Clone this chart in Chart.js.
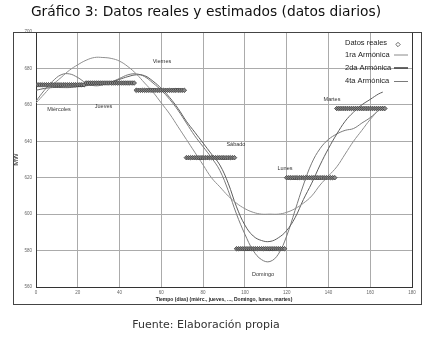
<!DOCTYPE html>
<html>
<head>
<meta charset="utf-8">
<script src="https://cdn.jsdelivr.net/npm/chart.js@4.4.0/dist/chart.umd.min.js"></script>
<style>
html, body { margin: 0; padding: 0; background: #fff; }
</style>
</head>
<body>
<canvas id="grafico" width="433" height="338"></canvas>
<script>
// datos reales: un valor por dia (MW), se repite en las 24 horas del dia
var dias = ['Miércoles', 'Jueves', 'Viernes', 'Sábado', 'Domingo', 'Lunes', 'Martes'];
var datosReales = [671, 672, 668, 631, 581, 620, 658];
var horasPorDia = 24;

// curvas estimadas, leidas cada 4 horas
var horas = [0, 4, 8, 12, 16, 20, 24, 28, 32, 36, 40, 44, 48, 52, 56, 60, 64, 68, 72, 76, 80,
    84, 88, 92, 96, 100, 104, 108, 112, 116, 120, 124, 128, 132, 136, 140, 144, 148, 152, 156, 160, 164, 166];
var armonica1 = [661, 666, 671, 675, 679, 682, 684.5, 686, 686, 685.5, 684, 681, 677, 672, 667, 661, 655, 648, 641, 634, 627,
    620, 615, 610, 606, 603, 601, 600, 600, 600, 601, 603, 606, 610, 616, 621, 626, 633, 640, 646, 652, 657, 659];
var armonica2 = [668, 669, 669.5, 669.5, 669.5, 670, 670.5, 671, 671.5, 672.5, 674, 675.5, 676.5, 676, 673, 669, 664, 658, 651, 645, 639,
    633, 627, 617, 604, 594, 588, 585.5, 585, 587, 591, 598, 608, 617, 627, 636, 644, 651, 656, 660, 663, 666, 667];
var armonica4 = [662, 668, 673, 676.5, 677, 675, 672, 670.5, 671, 672.5, 674.5, 676.5, 677, 675.5, 672, 668, 663, 657, 650, 643, 637,
    631, 624, 613, 600, 589, 580, 575, 574, 578, 588, 602, 616, 628, 636, 641, 644, 646, 647, 650, 653, 657, 659];

var xTicks = [0, 20, 40, 60, 80, 100, 120, 140, 160, 180];
var yTicks = [560, 580, 600, 620, 640, 660, 680, 700];

function puntos(xs, ys) {
    return xs.map(function (x, i) { return { x: x, y: ys[i] }; });
}

var puntosReales = [];
datosReales.forEach(function (v, d) {
    for (var h = 0; h < horasPorDia; h++) {
        puntosReales.push({ x: d * horasPorDia + h, y: v });
    }
});

// etiquetas de los dias, en coordenadas de datos
var etiquetas = [
    { text: 'Miércoles', x: 11, y: 657.5 },
    { text: 'Jueves', x: 32.3, y: 659 },
    { text: 'Viernes', x: 60.3, y: 684 },
    { text: 'Sábado', x: 95.7, y: 638.2 },
    { text: 'Domingo', x: 108.7, y: 566.8 },
    { text: 'Lunes', x: 119.2, y: 625 },
    { text: 'Martes', x: 141.7, y: 663 }
];

var leyenda = [
    { text: 'Datos reales', color: '#444', width: 0, marker: true },
    { text: '1ra Armónica', color: '#8a8a8a', width: 1 },
    { text: '2da Armónica', color: '#444', width: 1.6 },
    { text: '4ta Armónica', color: '#7a7a7a', width: 1 }
];

var extras = {
    id: 'extras',
    afterDraw: function (chart) {
        var ctx = chart.ctx, area = chart.chartArea;
        var sx = chart.scales.x, sy = chart.scales.y;
        ctx.save();

        // nombres de los dias
        ctx.font = '5.5px "Liberation Sans", Arial, sans-serif';
        ctx.fillStyle = '#333';
        ctx.textAlign = 'center';
        ctx.textBaseline = 'middle';
        etiquetas.forEach(function (e) {
            ctx.fillText(e.text, sx.getPixelForValue(e.x), sy.getPixelForValue(e.y));
        });

        // leyenda
        var rows = [11, 22.5, 35.5, 49];
        ctx.font = '7.5px "Liberation Sans", Arial, sans-serif';
        ctx.textAlign = 'left';
        leyenda.forEach(function (l, i) {
            var yy = area.top + rows[i];
            ctx.fillStyle = '#222';
            ctx.fillText(l.text, area.right - 67, yy);
            if (l.marker) {
                var cx = area.right - 14, cy = yy + 1.5;
                ctx.beginPath();
                ctx.moveTo(cx, cy - 2.2);
                ctx.lineTo(cx + 2.2, cy);
                ctx.lineTo(cx, cy + 2.2);
                ctx.lineTo(cx - 2.2, cy);
                ctx.closePath();
                ctx.strokeStyle = l.color;
                ctx.lineWidth = 0.8;
                ctx.stroke();
            } else {
                ctx.beginPath();
                ctx.moveTo(area.right - 18, yy + 0.5);
                ctx.lineTo(area.right - 4, yy + 0.5);
                ctx.strokeStyle = l.color;
                ctx.lineWidth = l.width;
                ctx.stroke();
            }
        });

        // marco exterior
        ctx.strokeStyle = '#444';
        ctx.lineWidth = 1;
        ctx.strokeRect(13.5, Math.round(area.top) + 0.5, Math.round(area.right) + 9 - 13, Math.round(area.bottom) + 17 - Math.round(area.top));
        ctx.restore();
    }
};

function colorGrid(limites) {
    return function (c) {
        if (c.tick && limites.indexOf(c.tick.value) >= 0) return '#333';
        return '#ababab';
    };
}

var ctx = document.getElementById('grafico').getContext('2d');
var chart = new Chart(ctx, {
    type: 'line',
    data: {
        datasets: [{
            label: 'Datos reales',
            data: puntosReales,
            showLine: false,
            pointStyle: 'rectRot',
            pointRadius: 2.3,
            pointBorderWidth: 0.8,
            pointBorderColor: '#3a3a3a',
            pointBackgroundColor: '#888',
            order: 0
        }, {
            label: '1ra Armónica',
            data: puntos(horas, armonica1),
            borderColor: '#8f8f8f',
            borderWidth: 1,
            pointRadius: 0,
            tension: 0.4,
            order: 1
        }, {
            label: '2da Armónica',
            data: puntos(horas, armonica2),
            borderColor: '#5e5e5e',
            borderWidth: 1,
            pointRadius: 0,
            tension: 0.4,
            order: 1
        }, {
            label: '4ta Armónica',
            data: puntos(horas, armonica4),
            borderColor: '#7a7a7a',
            borderWidth: 1,
            pointRadius: 0,
            tension: 0.4,
            order: 1
        }]
    },
    options: {
        responsive: false,
        animation: false,
        devicePixelRatio: 1,
        layout: { padding: { left: 0, right: 21, top: 0, bottom: 0 } },
        plugins: {
            legend: { display: false },
            tooltip: { enabled: false },
            title: {
                display: true,
                text: 'Gráfico 3: Datos reales y estimados (datos diarios)',
                color: '#111',
                font: { family: '"DejaVu Sans", sans-serif', size: 13.8, weight: 'normal' },
                padding: { top: 4.6, bottom: 10.84 }
            },
            subtitle: {
                display: true,
                position: 'bottom',
                text: 'Fuente: Elaboración propia',
                color: '#333',
                font: { family: '"DejaVu Sans", sans-serif', size: 11 },
                padding: { top: 14.4, bottom: 6.4 }
            }
        },
        scales: {
            x: {
                type: 'linear',
                min: 0,
                max: 180,
                afterBuildTicks: function (s) { s.ticks = xTicks.map(function (v) { return { value: v }; }); },
                afterFit: function (s) { s.height = 17; },
                ticks: { color: '#666', font: { size: 4.5, family: '"Liberation Sans", Arial' }, padding: 3 },
                grid: { color: colorGrid([0, 180]), drawTicks: false },
                border: { display: true, color: '#333' },
                title: {
                    display: true,
                    text: 'Tiempo (días) (miérc., jueves, ..., Domingo, lunes, martes)',
                    color: '#222',
                    font: { size: 5, weight: 'bold', family: '"Liberation Sans", Arial' },
                    padding: { top: 0, bottom: 1 }
                }
            },
            y: {
                min: 560,
                max: 700,
                afterBuildTicks: function (s) { s.ticks = yTicks.map(function (v) { return { value: v }; }); },
                afterFit: function (s) { s.width = 36; },
                ticks: { color: '#666', font: { size: 4.5, family: '"Liberation Sans", Arial' }, padding: 4 },
                grid: { color: colorGrid([560, 700]), drawTicks: false },
                border: { display: true, color: '#333' },
                title: {
                    display: true,
                    text: 'MW',
                    color: '#222',
                    font: { size: 7, family: '"Liberation Sans", Arial' },
                    padding: { top: 11.8, bottom: 0 }
                }
            }
        }
    },
    plugins: [extras]
});
</script>
</body>
</html>
